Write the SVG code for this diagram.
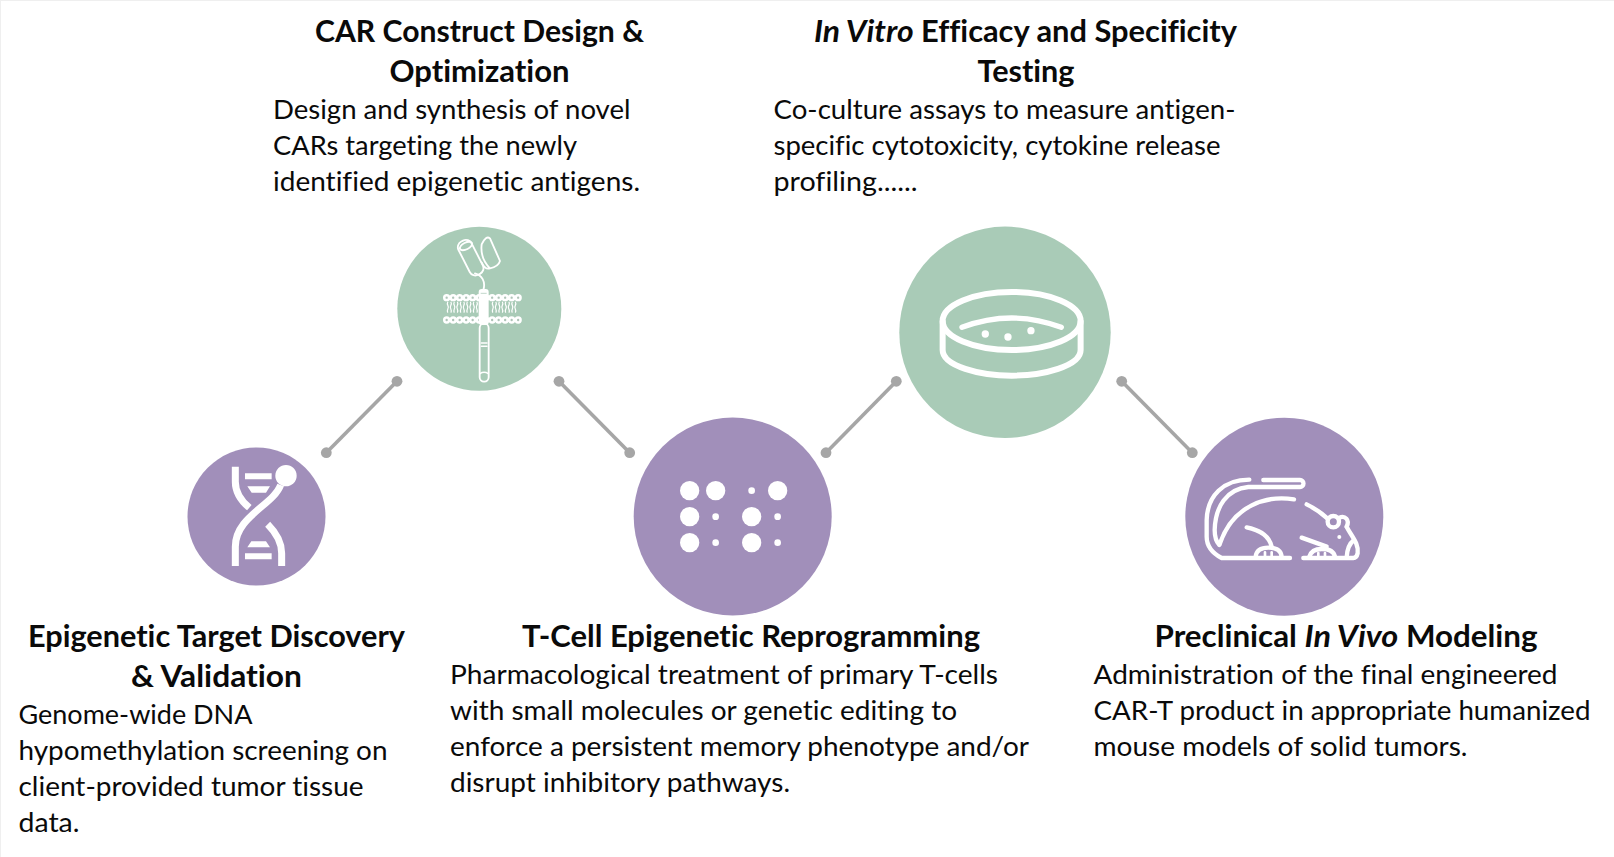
<svg xmlns="http://www.w3.org/2000/svg" width="1614" height="857" viewBox="0 0 1614 857">
<style>
text{font-family:Lato,"Open Sans",sans-serif;fill:#0a0a0a;font-variant-ligatures:none}
.t{font-size:29.500px;font-weight:700}
.b{font-size:27.500px}
.i{font-style:italic;font-size:30.500px}
.p{fill:#a18fba}
.g{fill:#a9cbb7}
.w{fill:#fff}
.s{fill:none;stroke:#fff;stroke-linecap:round;stroke-linejoin:round}
.c{fill:none;stroke:#a6a6a6;stroke-width:3.600;marker-start:url(#d);marker-end:url(#d)}
</style>
<defs>
<marker id="d" markerUnits="userSpaceOnUse" markerWidth="12" markerHeight="12" refX="6" refY="6"><circle cx="6" cy="6" r="5.400" fill="#a6a6a6"/></marker>
<path id="tail" d="M-4.500 0q-3 6 0 11t0 11q-3 6 0 11M4.500 0q3 6 0 11t0 11q3 6 0 11" fill="none" stroke="#fff" stroke-width="3.600"/>
</defs>
<rect x=".5" y=".5" width="1620" height="860" fill="#fff" stroke="#efefef"/>
<g id="connectors">
<line class="c" x1="326.300" y1="452.700" x2="397" y2="381.300"/>
<line class="c" x1="559" y1="381.300" x2="629.700" y2="452.700"/>
<line class="c" x1="826" y1="452.700" x2="896.300" y2="381.300"/>
<line class="c" x1="1121.700" y1="381.300" x2="1192.300" y2="452.700"/>
</g>
<g id="node-target-discovery">
<circle class="p" cx="256.500" cy="516.500" r="69"/>
<g transform="translate(160 210) scale(.3333)">
<path class="s" style="stroke-linecap:butt" stroke-width="21" d="M226 770V815Q226 858 268 893M362 825C340 885 226 920 226 1010V1068M323 943Q365 985 365 1030V1068"/>
<circle class="w" cx="378" cy="797" r="32"/>
<path class="w" d="M255 790H335V808H255ZM262 829H330L318 848H275ZM274 994H318L330 1012H262ZM255 1030H335V1048H255Z"/>
</g>
<text class="t" x="216.500" y="647" text-anchor="middle" textLength="377" lengthAdjust="spacingAndGlyphs">Epigenetic Target Discovery</text>
<text class="t" x="216.500" y="687" text-anchor="middle" textLength="171" lengthAdjust="spacingAndGlyphs">&amp; Validation</text>
<text class="b" x="18.500" y="723.500" textLength="234" lengthAdjust="spacingAndGlyphs">Genome-wide DNA</text>
<text class="b" x="18.500" y="759.500" textLength="369" lengthAdjust="spacingAndGlyphs">hypomethylation screening on</text>
<text class="b" x="18.500" y="795.500" textLength="345" lengthAdjust="spacingAndGlyphs">client-provided tumor tissue</text>
<text class="b" x="18.500" y="831.500" textLength="61" lengthAdjust="spacingAndGlyphs">data.</text>
</g>
<g id="node-car-design">
<circle class="g" cx="479.300" cy="308.800" r="82"/>
<g transform="translate(430 225) scale(.3333)">
<g class="s" stroke-width="5.500">
<rect x="-22" y="-56" width="44" height="112" rx="19" transform="translate(122 98) rotate(-27)"/>
<ellipse cx="108" cy="63" rx="20" ry="10" transform="rotate(-27 108 63)"/>
<path d="M155 58Q168 30 180 40L210 108Q205 125 180 130Q150 100 155 58ZM180 130Q165 135 155 112M135 145C155 150 168 170 160 195"/>
</g>
<g id="lipids">
<use href="#tail" x="58" y="230"/><use href="#tail" x="77.500" y="230"/><use href="#tail" x="97" y="230"/><use href="#tail" x="116.500" y="230"/><use href="#tail" x="136" y="230"/><use href="#tail" x="193" y="230"/><use href="#tail" x="212.500" y="230"/><use href="#tail" x="232" y="230"/><use href="#tail" x="251.500" y="230"/>
</g>
<path class="s" stroke-width="22" stroke-dasharray="0 19.500" d="M50 218H270M50 285H270"/>
<path fill="none" stroke="#afc4b8" stroke-width="7" stroke-linecap="round" stroke-dasharray="0 19.500" d="M50 218H270M50 285H270"/>
<rect class="w" x="146" y="192" width="30" height="108" rx="9"/>
<path fill="none" stroke="#b5cfc1" stroke-width="2.500" d="M152 205H170"/>
<rect class="s" x="149" y="296" width="27" height="174" rx="13" stroke-width="5.500"/>
<path class="s" stroke-width="4.500" d="M154 354H171M154 364H171M150 446Q162 438 175 446"/>
</g>
<text class="t" x="479.500" y="41.500" text-anchor="middle" textLength="329" lengthAdjust="spacingAndGlyphs">CAR Construct Design &amp;</text>
<text class="t" x="479.500" y="81.500" text-anchor="middle" textLength="180" lengthAdjust="spacingAndGlyphs">Optimization</text>
<text class="b" x="273" y="118.700" textLength="357.500" lengthAdjust="spacingAndGlyphs">Design and synthesis of novel</text>
<text class="b" x="273" y="154.700" textLength="304" lengthAdjust="spacingAndGlyphs">CARs targeting the newly</text>
<text class="b" x="273" y="190.700" textLength="367" lengthAdjust="spacingAndGlyphs">identified epigenetic antigens.</text>
</g>
<g id="node-reprogramming">
<circle class="p" cx="732.700" cy="516.500" r="99"/>
<g transform="translate(620 210) scale(.3333)">
<g class="w">
<circle cx="209" cy="842" r="29"/><circle cx="287" cy="842" r="29"/><circle cx="473" cy="842" r="29"/><circle cx="209" cy="920" r="29"/><circle cx="395" cy="920" r="29"/><circle cx="209" cy="998" r="29"/><circle cx="395" cy="998" r="29"/>
<circle cx="395" cy="842" r="10"/><circle cx="287" cy="920" r="10"/><circle cx="473" cy="920" r="10"/><circle cx="287" cy="998" r="10"/><circle cx="473" cy="998" r="10"/>
</g>
</g>
<text class="t" x="751" y="647" text-anchor="middle" textLength="458" lengthAdjust="spacingAndGlyphs">T-Cell Epigenetic Reprogramming</text>
<text class="b" x="450" y="683.500" textLength="548" lengthAdjust="spacingAndGlyphs">Pharmacological treatment of primary T-cells</text>
<text class="b" x="450" y="719.500" textLength="507" lengthAdjust="spacingAndGlyphs">with small molecules or genetic editing to</text>
<text class="b" x="450" y="755.500" textLength="579" lengthAdjust="spacingAndGlyphs">enforce a persistent memory phenotype and/or</text>
<text class="b" x="450" y="791.500" textLength="340" lengthAdjust="spacingAndGlyphs">disrupt inhibitory pathways.</text>
</g>
<g id="node-in-vitro">
<circle class="g" cx="1005" cy="332.300" r="105.700"/>
<g transform="translate(620 210) scale(.3333)">
<g class="s" stroke-width="18">
<ellipse cx="1175" cy="333" rx="207" ry="87"/>
<path d="M968 335V420C968 468 1080 497 1175 497C1270 497 1382 468 1382 420V335"/>
</g>
<path class="s" stroke-width="16" d="M1026 352Q1175 296 1324 352"/>
<g class="w"><circle cx="1096" cy="372" r="11"/><circle cx="1164" cy="381" r="11"/><circle cx="1233" cy="362" r="11"/></g>
</g>
<text class="t" x="1025.500" y="41.500" text-anchor="middle" textLength="423" lengthAdjust="spacingAndGlyphs"><tspan class="i">In Vitro</tspan> Efficacy and Specificity</text>
<text class="t" x="1026" y="81.500" text-anchor="middle" textLength="97" lengthAdjust="spacingAndGlyphs">Testing</text>
<text class="b" x="773.500" y="118.700" textLength="462" lengthAdjust="spacingAndGlyphs">Co-culture assays to measure antigen-</text>
<text class="b" x="773.500" y="154.700" textLength="447" lengthAdjust="spacingAndGlyphs">specific cytotoxicity, cytokine release</text>
<text class="b" x="773.500" y="190.700" textLength="144" lengthAdjust="spacingAndGlyphs">profiling......</text>
</g>
<g id="node-in-vivo">
<circle class="p" cx="1284.300" cy="516.700" r="99"/>
<g transform="translate(1190 465) scale(.3333)">
<g class="s" stroke-width="13">
<path d="M178 44C100 44 52 92 50 165V215Q50 255 95 279H300"/>
<path d="M220 45H330A10.500 10.500 0 0 1 330 66H175C110 72 76 125 74 195Q74 225 88 240"/>
<path d="M312 103C230 90 130 120 90 235"/>
<path d="M350 118Q385 135 412 160"/>
<circle cx="430" cy="170" r="17"/>
<path d="M448 158C465 150 480 165 470 185"/>
<path d="M470 185C485 215 507 235 503 265Q500 279 490 279H340"/>
<path d="M470 277Q472 240 492 225"/>
<path d="M170 187Q235 200 245 245"/>
<path d="M197 275Q200 248 235 248Q272 248 275 275"/>
<path d="M335 218L410 245"/>
<path d="M358 275Q365 252 395 252Q430 252 435 275"/>
<path stroke-width="8" d="M225 262V275M245 262V275M385 264V275M405 264V275"/>
</g>
<circle class="w" cx="448" cy="216" r="6"/>
</g>
<text class="t" x="1346" y="647" text-anchor="middle" textLength="383" lengthAdjust="spacingAndGlyphs">Preclinical <tspan class="i">In Vivo</tspan> Modeling</text>
<text class="b" x="1093.500" y="683.500" textLength="464" lengthAdjust="spacingAndGlyphs">Administration of the final engineered</text>
<text class="b" x="1093.500" y="719.500" textLength="497" lengthAdjust="spacingAndGlyphs">CAR-T product in appropriate humanized</text>
<text class="b" x="1093.500" y="755.500" textLength="374" lengthAdjust="spacingAndGlyphs">mouse models of solid tumors.</text>
</g>
</svg>
